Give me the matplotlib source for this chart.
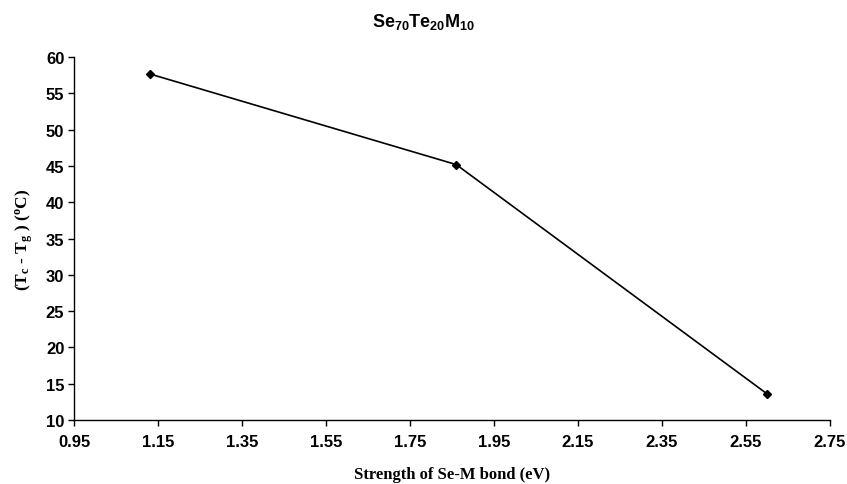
import matplotlib
matplotlib.use("Agg")
from matplotlib import pyplot as plt
from matplotlib import font_manager
from matplotlib.ticker import FixedLocator, FormatStrFormatter
#
# Données
bond_strength = [1.13, 1.86, 2.60]
tc_minus_tg = [57.7, 45.2, 13.6]
x_ticks = [0.95, 1.15, 1.35, 1.55, 1.75, 1.95, 2.15, 2.35, 2.55, 2.75]
y_ticks = [10, 15, 20, 25, 30, 35, 40, 45, 50, 55, 60]
#
installed = set(f.name for f in font_manager.fontManager.ttflist)
tick_family = "Liberation Sans Narrow" if "Liberation Sans Narrow" in installed else "Liberation Sans"
#
plt.rcParams["mathtext.fontset"] = "custom"
plt.rcParams["mathtext.rm"] = "Liberation Serif:bold"
plt.rcParams["mathtext.it"] = "Liberation Serif:bold"
plt.rcParams["mathtext.sf"] = "Liberation Sans:bold"
plt.rcParams["mathtext.bf"] = "Liberation Sans:bold"
#
fig = plt.figure(figsize=(8.47, 4.85), dpi=100)
ax = fig.add_axes([0.0874, 0.132, 0.8926, 0.748])
ax.plot(bond_strength, tc_minus_tg, color="black", lw=1.2,
        marker="D", markersize=4.5, markerfacecolor="black")
#
ax.set_xlim(x_ticks[0], x_ticks[-1])
ax.set_ylim(y_ticks[0], y_ticks[-1])
ax.xaxis.set_major_locator(FixedLocator(x_ticks))
ax.yaxis.set_major_locator(FixedLocator(y_ticks))
ax.xaxis.set_major_formatter(FormatStrFormatter("%.2f"))
ax.spines["top"].set_visible(False)
ax.spines["right"].set_visible(False)
for s in ("left", "bottom"):
    ax.spines[s].set_linewidth(1.0)
ax.tick_params(direction="out", length=4, width=1.0)
ax.tick_params(axis="x", pad=6)
ax.tick_params(axis="y", pad=3)
for lab in ax.get_xticklabels() + ax.get_yticklabels():
    lab.set_fontfamily(tick_family)
    lab.set_fontweight("bold")
    lab.set_fontsize(12)
#
ax.set_xlabel("Strength of Se-M bond (eV)", family="Liberation Serif",
              fontweight="bold", fontsize=12, labelpad=12)
ax.set_ylabel(r"(T$_\mathrm{c}$ - T$_\mathrm{g}$ ) ($^\mathrm{o}$C)",
              family="Liberation Serif", fontweight="bold", fontsize=12.5,
              labelpad=8)
fig.text(0.5, 0.955, r"$\mathsf{Se_{70}Te_{20}M_{10}}$", ha="center",
         va="center", fontsize=13)
#
fig.savefig("out.png", dpi=100)
